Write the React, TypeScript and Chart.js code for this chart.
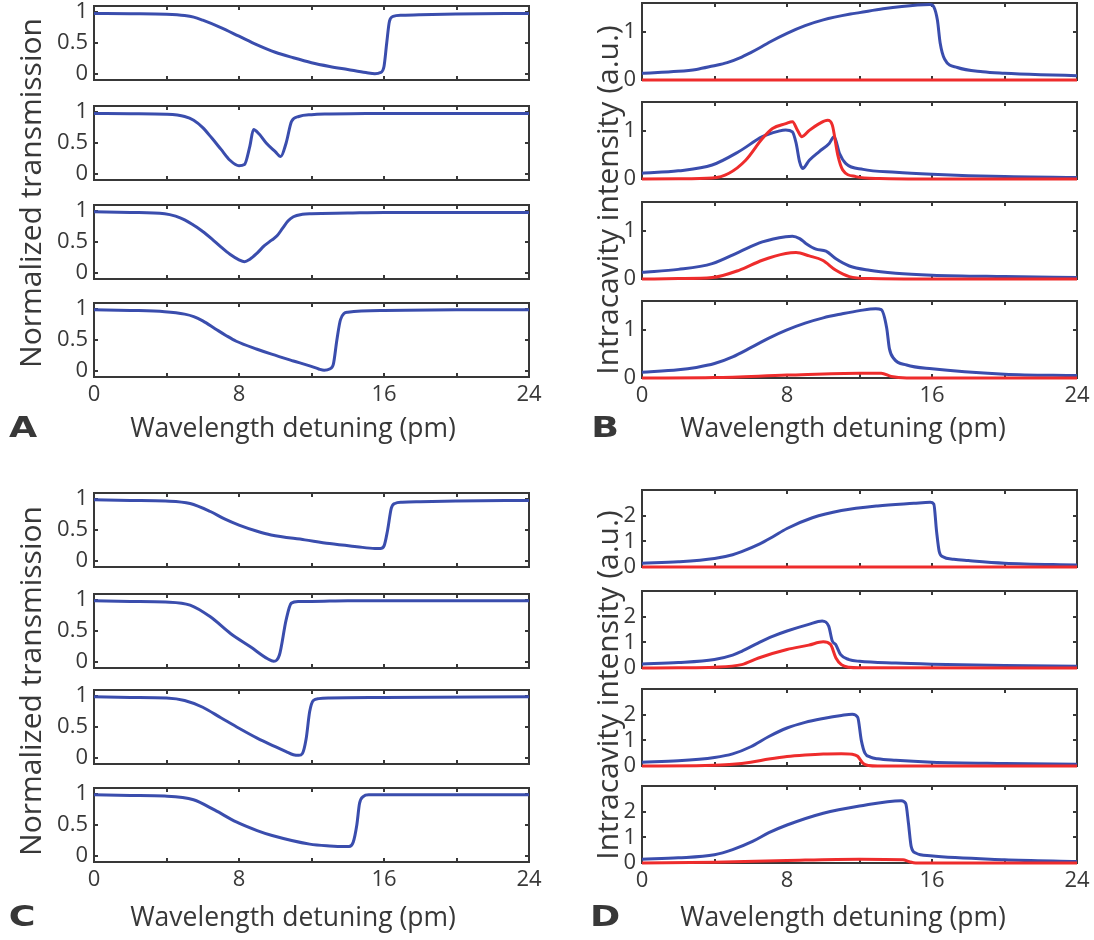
import React, { useEffect, useRef } from 'react';
import { Chart, registerables } from 'chart.js';

Chart.register(...registerables);

const BLUE = '#3a4dad';
const RED = '#ee2c2c';
const INK = '#383838';
const FONT = '"Open Sans", "DejaVu Sans", sans-serif';

// ---- axis ticks ----
const xTicks = [0, 4, 8, 12, 16, 20, 24];
const xTickLabels = [0, 8, 16, 24];
const yTicksTrans = [0, 0.5, 1];
const yTicksB = [0, 1];
const yTicksD = [0, 1, 2];

// ---- Panel A : normalized transmission ----
const a1X = [0, 2, 4, 5, 5.5, 6, 7, 8, 9, 10, 11, 12, 13, 14, 15, 15.5, 15.8, 16.0, 16.15, 16.3, 16.5, 17, 18, 20, 24];
const a1Y = [0.98, 0.975, 0.965, 0.945, 0.92, 0.87, 0.75, 0.61, 0.47, 0.35, 0.26, 0.18, 0.12, 0.07, 0.02, 0.0, 0.02, 0.12, 0.5, 0.85, 0.93, 0.95, 0.96, 0.97, 0.98];
const a2X = [0, 2, 4, 5, 5.5, 6, 6.5, 7, 7.5, 8, 8.3, 8.6, 8.8, 9.1, 9.5, 10, 10.3, 10.6, 10.9, 11.3, 12, 13, 15, 24];
const a2Y = [0.98, 0.975, 0.965, 0.93, 0.87, 0.75, 0.58, 0.4, 0.22, 0.13, 0.15, 0.45, 0.72, 0.65, 0.5, 0.36, 0.28, 0.5, 0.85, 0.93, 0.96, 0.97, 0.98, 0.98];
const a3X = [0, 2, 3.9, 4.5, 5, 5.5, 6, 6.5, 7, 7.5, 8, 8.3, 8.6, 9, 9.4, 9.8, 10.1, 10.4, 10.7, 11, 11.5, 12, 14, 16, 24];
const a3Y = [0.99, 0.98, 0.96, 0.92, 0.86, 0.77, 0.67, 0.55, 0.42, 0.3, 0.21, 0.18, 0.22, 0.32, 0.44, 0.53, 0.6, 0.72, 0.84, 0.91, 0.95, 0.96, 0.97, 0.98, 0.98];
const a4X = [0, 2, 3.9, 5, 5.5, 6, 6.7, 7.3, 7.85, 9, 9.8, 11, 11.9, 12.4, 12.7, 13.0, 13.2, 13.4, 13.6, 14, 16, 20, 24];
const a4Y = [0.99, 0.98, 0.96, 0.92, 0.88, 0.81, 0.68, 0.57, 0.48, 0.35, 0.27, 0.16, 0.08, 0.03, 0.01, 0.03, 0.1, 0.5, 0.83, 0.95, 0.98, 0.99, 0.99];

// ---- Panel B : intracavity intensity ----
const b1BlueX = [0, 2, 3, 3.9, 4.7, 5.4, 6, 6.5, 7, 8, 9, 10, 11.5, 12, 13.3, 15.2, 15.9, 16.1, 16.3, 16.45, 16.7, 17.4, 18.8, 20, 22, 24];
const b1BlueY = [0.14, 0.18, 0.22, 0.29, 0.36, 0.46, 0.57, 0.67, 0.78, 0.97, 1.13, 1.25, 1.37, 1.4, 1.48, 1.56, 1.57, 1.52, 1.24, 0.77, 0.43, 0.26, 0.17, 0.14, 0.11, 0.09];
const b1RedX = [0, 8, 16, 24];
const b1RedY = [0, 0, 0, 0];
const b2BlueX = [0, 2, 3.87, 5.35, 6.64, 7.5, 7.93, 8.3, 8.5, 8.7, 8.86, 9.23, 9.78, 10.33, 10.6, 10.9, 11.25, 12.2, 14, 16, 20, 24];
const b2BlueY = [0.12, 0.17, 0.29, 0.57, 0.88, 0.99, 1.02, 0.98, 0.75, 0.35, 0.22, 0.39, 0.57, 0.74, 0.88, 0.53, 0.32, 0.2, 0.14, 0.1, 0.05, 0.03];
const b2RedX = [0, 2, 3.87, 4.8, 5.72, 6.64, 7.2, 7.93, 8.3, 8.58, 8.82, 9.23, 9.78, 10.24, 10.5, 10.8, 11.07, 11.8, 13.1, 16, 24];
const b2RedY = [0, 0.003, 0.02, 0.12, 0.39, 0.84, 1.05, 1.15, 1.19, 1.01, 0.88, 1.01, 1.15, 1.22, 1.12, 0.5, 0.19, 0.05, 0.01, 0, 0];
const b3BlueX = [0, 2, 3.87, 5.35, 6.64, 7.93, 8.3, 8.7, 9.04, 9.6, 10.15, 10.7, 11.44, 12.55, 14, 16, 20, 24];
const b3BlueY = [0.14, 0.2, 0.32, 0.56, 0.77, 0.88, 0.89, 0.84, 0.74, 0.62, 0.58, 0.42, 0.27, 0.18, 0.12, 0.08, 0.05, 0.03];
const b3RedX = [0, 2, 3.87, 5.35, 6.64, 7.93, 8.5, 9.23, 9.96, 10.7, 11.44, 12.55, 16, 24];
const b3RedY = [0, 0.008, 0.03, 0.18, 0.39, 0.53, 0.55, 0.48, 0.39, 0.18, 0.05, 0.01, 0, 0];
const b4BlueX = [0, 2, 3, 4, 5, 6, 7, 8, 9, 10, 11, 12, 12.9, 13.2, 13.5, 13.65, 13.9, 14.6, 16, 20, 24];
const b4BlueY = [0.12, 0.17, 0.22, 0.3, 0.44, 0.63, 0.83, 1.0, 1.14, 1.25, 1.33, 1.4, 1.44, 1.42, 1.04, 0.61, 0.4, 0.27, 0.19, 0.08, 0.05];
const b4RedX = [0, 4, 8, 12, 13.2, 13.75, 14.6, 24];
const b4RedY = [0, 0.01, 0.06, 0.1, 0.1, 0.03, 0, 0];

// ---- Panel C : normalized transmission ----
const c1X = [0, 2, 3.94, 5.3, 6.42, 7.2, 8, 9, 9.77, 11.63, 13, 14.5, 15.5, 15.8, 16.0, 16.2, 16.4, 16.6, 17, 18, 20, 24];
const c1Y = [0.99, 0.98, 0.97, 0.93, 0.8, 0.68, 0.58, 0.48, 0.42, 0.34, 0.28, 0.23, 0.2, 0.2, 0.24, 0.5, 0.85, 0.93, 0.95, 0.96, 0.97, 0.98];
const c2X = [0, 2, 3.94, 5.3, 6.42, 7.53, 8.65, 9.58, 9.92, 10.23, 10.6, 10.88, 11.26, 12, 14, 24];
const c2Y = [0.99, 0.98, 0.97, 0.92, 0.73, 0.46, 0.24, 0.05, 0.01, 0.11, 0.68, 0.95, 0.98, 0.98, 0.99, 0.99];
const c3X = [0, 2, 4, 5, 6, 7, 8, 9, 10, 10.6, 11.0, 11.3, 11.5, 11.7, 11.9, 12.1, 12.4, 13, 16, 24];
const c3Y = [0.99, 0.98, 0.97, 0.93, 0.82, 0.65, 0.48, 0.32, 0.18, 0.1, 0.05, 0.04, 0.07, 0.3, 0.75, 0.93, 0.96, 0.97, 0.98, 0.99];
const c4X = [0, 2, 3.9, 5.49, 6.67, 7.85, 9, 9.83, 11.9, 13.0, 13.78, 14.07, 14.3, 14.5, 14.65, 14.85, 15.16, 16, 20, 24];
const c4Y = [0.99, 0.98, 0.97, 0.91, 0.74, 0.55, 0.41, 0.33, 0.19, 0.16, 0.15, 0.15, 0.22, 0.5, 0.85, 0.96, 0.99, 0.99, 0.99, 0.99];

// ---- Panel D : intracavity intensity ----
const d1BlueX = [0, 2, 4, 5, 5.5, 6.5, 7.2, 8, 9.4, 11, 13, 15, 15.9, 16.1, 16.25, 16.4, 16.6, 17.2, 18, 20, 24];
const d1BlueY = [0.15, 0.2, 0.33, 0.48, 0.6, 0.9, 1.17, 1.5, 1.92, 2.2, 2.38, 2.48, 2.52, 2.45, 1.4, 0.6, 0.4, 0.3, 0.25, 0.15, 0.08];
const d1RedX = [0, 8, 16, 24];
const d1RedY = [0, 0, 0, 0];
const d2BlueX = [0, 2, 4, 5, 5.5, 6.43, 7.2, 8, 9.2, 9.94, 10.3, 10.5, 10.68, 10.96, 11.42, 12, 14, 16, 20, 24];
const d2BlueY = [0.16, 0.21, 0.33, 0.5, 0.65, 0.98, 1.23, 1.44, 1.7, 1.83, 1.63, 1.05, 0.92, 0.52, 0.33, 0.26, 0.19, 0.15, 0.1, 0.07];
const d2RedX = [0, 2, 4, 5.5, 6.43, 8, 9.2, 10, 10.4, 10.7, 11, 11.42, 12, 24];
const d2RedY = [0, 0.01, 0.03, 0.13, 0.39, 0.72, 0.89, 1.02, 0.92, 0.39, 0.13, 0.03, 0.01, 0];
const d3BlueX = [0, 2, 4, 5, 6, 7, 8, 9, 10, 11, 11.6, 11.9, 12.1, 12.3, 12.6, 13, 14, 16, 20, 24];
const d3BlueY = [0.15, 0.2, 0.33, 0.47, 0.75, 1.15, 1.48, 1.7, 1.85, 1.97, 2.02, 1.9, 1.0, 0.5, 0.35, 0.28, 0.22, 0.15, 0.1, 0.07];
const d3RedX = [0, 3, 4, 5, 6, 7, 8, 9, 10, 11, 11.6, 11.9, 12.2, 12.5, 13, 24];
const d3RedY = [0, 0.01, 0.03, 0.07, 0.15, 0.27, 0.37, 0.43, 0.47, 0.48, 0.46, 0.38, 0.1, 0.02, 0, 0];
const d4BlueX = [0, 2, 4, 5, 6.1, 7, 8, 10, 12, 14.3, 14.55, 14.7, 14.85, 15.1, 15.9, 20, 24];
const d4BlueY = [0.15, 0.2, 0.32, 0.52, 0.84, 1.18, 1.48, 1.94, 2.22, 2.43, 2.32, 1.55, 0.65, 0.39, 0.28, 0.13, 0.06];
const d4RedX = [0, 4, 8, 12, 14.4, 14.75, 15.1, 24];
const d4RedY = [0, 0.03, 0.1, 0.15, 0.13, 0.05, 0, 0];

// ---- layout (plot boxes) ----
const YW = 50;
const PR = 22;
const PT = 22;
const PB = 22;
const XH = 38;

type Series = { xs: number[]; ys: number[]; color: string };
type SubCfg = {
  left: number; top: number; width: number; height: number;
  yMin: number; yMax: number; yTicks: number[]; showX: boolean;
  series: Series[];
};

const framePlugin = {
  id: 'matlabFrame',
  beforeDatasetsDraw(chart: any) {
    const { ctx, chartArea: a, scales } = chart;
    ctx.save();
    ctx.strokeStyle = INK;
    ctx.lineWidth = 2;
    ctx.strokeRect(a.left, a.top, a.right - a.left, a.bottom - a.top);
    const tl = 4;
    ctx.beginPath();
    scales.x.ticks.forEach((t: any) => {
      const px = Math.round(scales.x.getPixelForValue(t.value));
      ctx.moveTo(px, a.bottom); ctx.lineTo(px, a.bottom - tl);
      ctx.moveTo(px, a.top); ctx.lineTo(px, a.top + tl);
    });
    scales.y.ticks.forEach((t: any) => {
      const py = Math.round(scales.y.getPixelForValue(t.value));
      ctx.moveTo(a.left, py); ctx.lineTo(a.left + tl, py);
      ctx.moveTo(a.right, py); ctx.lineTo(a.right - tl, py);
    });
    ctx.stroke();
    ctx.restore();
  },
};

function SubPlot({ cfg }: { cfg: SubCfg }) {
  const ref = useRef<HTMLCanvasElement>(null);
  const W = cfg.width + YW + PR;
  const H = cfg.height + PT + (cfg.showX ? XH : PB);
  useEffect(() => {
    if (!ref.current) return;
    const chart = new Chart(ref.current, {
      type: 'line',
      data: {
        datasets: cfg.series.map((s) => ({
          data: s.xs.map((x, i) => ({ x, y: s.ys[i] })),
          borderColor: s.color,
          borderWidth: 3,
          pointRadius: 0,
          fill: false,
          cubicInterpolationMode: 'monotone',
          clip: 8,
        })),
      },
      options: {
        responsive: false,
        animation: false,
        events: [],
        layout: { padding: { left: 0, right: PR, top: PT, bottom: cfg.showX ? 0 : PB } },
        plugins: { legend: { display: false }, tooltip: { enabled: false } },
        scales: {
          x: {
            type: 'linear',
            min: 0,
            max: 24,
            afterBuildTicks: (sc: any) => { sc.ticks = xTicks.map((v) => ({ value: v })); },
            afterFit: (sc: any) => { sc.height = cfg.showX ? XH : 0; },
            grid: { display: false, drawTicks: false },
            border: { display: false },
            ticks: {
              display: cfg.showX,
              autoSkip: false,
              maxRotation: 0,
              padding: 5,
              color: INK,
              font: { family: FONT, size: 22 },
              callback: (v: any) => (xTickLabels.includes(Number(v)) ? String(v) : ''),
            },
          },
          y: {
            type: 'linear',
            min: cfg.yMin,
            max: cfg.yMax,
            afterBuildTicks: (sc: any) => { sc.ticks = cfg.yTicks.map((v) => ({ value: v })); },
            afterFit: (sc: any) => { sc.width = YW; },
            grid: { display: false, drawTicks: false },
            border: { display: false },
            ticks: {
              padding: 6,
              color: INK,
              font: { family: FONT, size: 22 },
              callback: (v: any) => String(v),
            },
          },
        },
      },
      plugins: [framePlugin],
    } as any);
    return () => chart.destroy();
  }, []);
  return (
    <canvas
      ref={ref}
      width={W}
      height={H}
      style={{ position: 'absolute', left: cfg.left - YW, top: cfg.top - PT, width: W, height: H }}
    />
  );
}

const COL_L = 94;
const COL_R = 642;
const PW = 435;
const topsA = [6, 106, 205, 303];
const topsB = [3, 102, 202, 301];
const topsC = [493, 594, 690, 788];
const topsD = [490, 591, 689, 786];

const transSeries = [
  [{ xs: a1X, ys: a1Y, color: BLUE }],
  [{ xs: a2X, ys: a2Y, color: BLUE }],
  [{ xs: a3X, ys: a3Y, color: BLUE }],
  [{ xs: a4X, ys: a4Y, color: BLUE }],
];
const transSeriesC = [
  [{ xs: c1X, ys: c1Y, color: BLUE }],
  [{ xs: c2X, ys: c2Y, color: BLUE }],
  [{ xs: c3X, ys: c3Y, color: BLUE }],
  [{ xs: c4X, ys: c4Y, color: BLUE }],
];
const intSeriesB = [
  [{ xs: b1RedX, ys: b1RedY, color: RED }, { xs: b1BlueX, ys: b1BlueY, color: BLUE }],
  [{ xs: b2RedX, ys: b2RedY, color: RED }, { xs: b2BlueX, ys: b2BlueY, color: BLUE }],
  [{ xs: b3RedX, ys: b3RedY, color: RED }, { xs: b3BlueX, ys: b3BlueY, color: BLUE }],
  [{ xs: b4RedX, ys: b4RedY, color: RED }, { xs: b4BlueX, ys: b4BlueY, color: BLUE }],
];
const intSeriesD = [
  [{ xs: d1RedX, ys: d1RedY, color: RED }, { xs: d1BlueX, ys: d1BlueY, color: BLUE }],
  [{ xs: d2RedX, ys: d2RedY, color: RED }, { xs: d2BlueX, ys: d2BlueY, color: BLUE }],
  [{ xs: d3RedX, ys: d3RedY, color: RED }, { xs: d3BlueX, ys: d3BlueY, color: BLUE }],
  [{ xs: d4RedX, ys: d4RedY, color: RED }, { xs: d4BlueX, ys: d4BlueY, color: BLUE }],
];

const subs: SubCfg[] = [
  ...topsA.map((t, i) => ({ left: COL_L, top: t, width: PW, height: 74, yMin: -0.1, yMax: 1.1, yTicks: yTicksTrans, showX: i === 3, series: transSeries[i] })),
  ...topsB.map((t, i) => ({ left: COL_R, top: t, width: PW, height: 77, yMin: 0, yMax: 1.6, yTicks: yTicksB, showX: i === 3, series: intSeriesB[i] })),
  ...topsC.map((t, i) => ({ left: COL_L, top: t, width: PW, height: 74, yMin: -0.1, yMax: 1.1, yTicks: yTicksTrans, showX: i === 3, series: transSeriesC[i] })),
  ...topsD.map((t, i) => ({ left: COL_R, top: t, width: PW, height: 77, yMin: 0, yMax: 3, yTicks: yTicksD, showX: i === 3, series: intSeriesD[i] })),
];

function Label({ x, y, text, rotate = false, size = 25, bold = false, family = FONT, stretch = 1 }: any) {
  const tf = rotate ? ' rotate(-90deg)' : stretch !== 1 ? ` scaleX(${stretch})` : '';
  return (
    <div
      style={{
        position: 'absolute',
        left: x,
        top: y,
        transform: `translate(-50%, -50%)${tf}`,
        whiteSpace: 'nowrap',
        fontFamily: family,
        fontSize: size,
        fontWeight: bold ? 900 : 400,
        color: INK,
        lineHeight: 1,
      }}
    >
      {text}
    </div>
  );
}

export default function App() {
  const LETTER = '"DejaVu Sans", sans-serif';
  return (
    <div style={{ position: 'absolute', left: 0, top: 0, width: 1094, height: 940, background: '#fff', overflow: 'hidden' }}>
      {subs.map((s, i) => <SubPlot key={i} cfg={s} />)}
      <Label x={30} y={193} text="Normalized transmission" rotate size={30} />
      <Label x={30} y={681} text="Normalized transmission" rotate size={30} />
      <Label x={607} y={200} text="Intracavity intensity (a.u.)" rotate size={30} />
      <Label x={607} y={685} text="Intracavity intensity (a.u.)" rotate size={30} />
      <Label x={293} y={427} text="Wavelength detuning (pm)" size={26.5} />
      <Label x={843} y={427} text="Wavelength detuning (pm)" size={26.5} />
      <Label x={293} y={916} text="Wavelength detuning (pm)" size={26.5} />
      <Label x={843} y={916} text="Wavelength detuning (pm)" size={26.5} />
      <Label x={23} y={428} text="A" size={28} bold family={LETTER} stretch={1.3} />
      <Label x={605} y={428} text="B" size={28} bold family={LETTER} stretch={1.3} />
      <Label x={22} y={917} text="C" size={28} bold family={LETTER} stretch={1.3} />
      <Label x={605} y={917} text="D" size={28} bold family={LETTER} stretch={1.3} />
    </div>
  );
}
